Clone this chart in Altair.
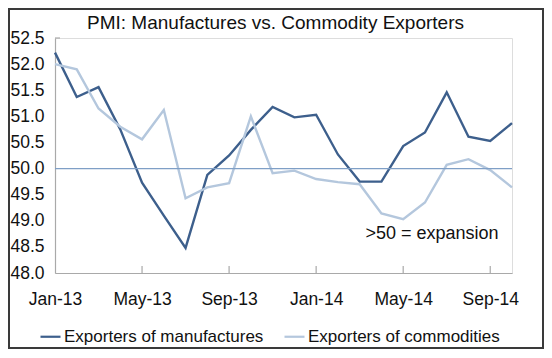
import altair as alt
import pandas as pd

months = ["Jan-13", "Feb-13", "Mar-13", "Apr-13", "May-13", "Jun-13", "Jul-13", "Aug-13",
          "Sep-13", "Oct-13", "Nov-13", "Dec-13", "Jan-14", "Feb-14", "Mar-14", "Apr-14",
          "May-14", "Jun-14", "Jul-14", "Aug-14", "Sep-14", "Oct-14"]
manufactures = [52.22, 51.37, 51.56, 50.75, 49.73, 49.10, 48.48, 49.88, 50.25, 50.74, 51.18,
                50.98, 51.03, 50.27, 49.75, 49.75, 50.43, 50.69, 51.46, 50.61, 50.53, 50.87]
commodities = [52.00, 51.90, 51.15, 50.80, 50.56, 51.12, 49.43, 49.64, 49.72, 51.00, 49.91,
               49.96, 49.80, 49.74, 49.70, 49.14, 49.03, 49.35, 50.07, 50.18, 49.97, 49.64]
series_names = ["Exporters of manufactures", "Exporters of commodities"]
series_colors = ["#3d5f8c", "#b4c7dd"]
tick_labels = ["Jan-13", "May-13", "Sep-13", "Jan-14", "May-14", "Sep-14"]
y_ticks = [48.0, 48.5, 49.0, 49.5, 50.0, 50.5, 51.0, 51.5, 52.0, 52.5]
title_text = "PMI: Manufactures vs. Commodity Exporters"
note_text = ">50 = expansion"

FONT = "Liberation Sans"
W, H = 457, 235

df = pd.DataFrame({
    "month": months * 2,
    "value": manufactures + commodities,
    "series": [series_names[0]] * len(months) + [series_names[1]] * len(months),
    "order": list(range(len(months))) * 2,
})

x_scale = alt.Scale(type="point", padding=0)
y_scale = alt.Scale(domain=[48, 52.5], nice=False, zero=False)

x_axis = alt.Axis(values=tick_labels, labelAngle=0, ticks=False, title=None,
                  labelPadding=17, labelFontSize=17.5, labelFont=FONT,
                  labelColor="#111111", domainColor="#a9a9a9", domainWidth=1.2,
                  labelOverlap=False)
y_axis = alt.Axis(values=y_ticks, format=".1f", ticks=False, grid=False, title=None,
                  labelPadding=11, labelFontSize=17.5, labelFont=FONT,
                  labelColor="#111111", domainColor="#a9a9a9", domainWidth=1.2,
                  labelOverlap=False)

lines = alt.Chart(df).mark_line(strokeWidth=2.4).encode(
    x=alt.X("month:O", sort=months, scale=x_scale, axis=x_axis),
    y=alt.Y("value:Q", scale=y_scale, axis=y_axis),
    color=alt.Color("series:N", scale=alt.Scale(domain=series_names, range=series_colors),
                    legend=alt.Legend(title=None, orient="none", direction="horizontal",
                                      legendX=-16, legendY=287, symbolType="stroke",
                                      symbolSize=400, symbolStrokeWidth=2.2,
                                      labelFontSize=17, labelFont=FONT, labelColor="#111111",
                                      labelOffset=2, columnPadding=16, labelLimit=400)),
    order="order:Q",
)

ref = alt.Chart(pd.DataFrame({"value": [50.0]})).mark_rule(color="#7f9fc6", strokeWidth=1.2).encode(
    y=alt.Y("value:Q", scale=y_scale, axis=y_axis)
)

ticks_df = pd.DataFrame({"month": tick_labels[1:]})
xticks = alt.Chart(ticks_df).mark_rule(color="#a9a9a9", strokeWidth=1.2).encode(
    x=alt.X("month:O", sort=months, scale=x_scale, axis=x_axis),
    y=alt.value(H), y2=alt.value(H - 7),
)

ytick = alt.Chart(pd.DataFrame({"value": [52.5]})).mark_rule(color="#a9a9a9", strokeWidth=1.2).encode(
    y=alt.Y("value:Q", scale=y_scale, axis=y_axis), x=alt.value(0), x2=alt.value(5)
)

note = alt.Chart(pd.DataFrame({"month": ["Jun-14"], "value": [48.75], "t": [note_text]})).mark_text(
    font=FONT, fontSize=18, color="#111111", align="center", baseline="middle", dx=7
).encode(
    x=alt.X("month:O", sort=months, scale=x_scale, axis=x_axis),
    y=alt.Y("value:Q", scale=y_scale, axis=y_axis),
    text="t:N",
)

frame = alt.Chart(pd.DataFrame({"a": [0]})).mark_rect(
    fill=None, stroke="#3a3a3a", strokeWidth=2
).encode(x=alt.value(-46), x2=alt.value(488), y=alt.value(-29), y2=alt.value(310))

chart = alt.layer(lines, frame, ref, xticks, ytick, note).properties(
    width=W, height=H,
    title=alt.TitleParams(title_text, font=FONT, fontSize=19, fontWeight="normal",
                          color="#111111", anchor="middle", dx=-8, offset=-25),
    padding={"left": 47, "top": 30, "right": 32, "bottom": 77},
    autosize=alt.AutoSizeParams(type="none"),
).configure_view(stroke=None).configure(background="white")

chart.save("out.html", embed_options={"renderer": "svg", "actions": False})
